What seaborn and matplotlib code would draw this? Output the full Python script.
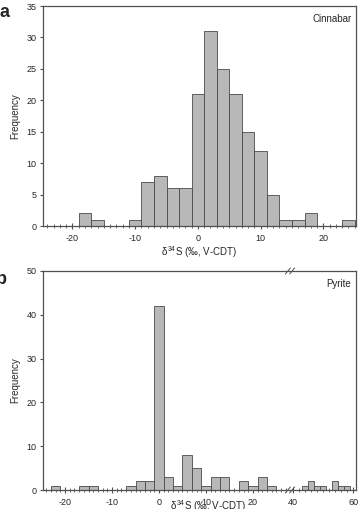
import matplotlib
matplotlib.use("Agg")
import matplotlib.pyplot as plt
from matplotlib.ticker import MultipleLocator, FixedLocator
import pandas as pd
import seaborn as sns

# Cinnabar histogram (2 permil bins, centred on even values)
cinnabar_centers = [-18, -16, -10, -8, -6, -4, -2, 0, 2, 4, 6, 8, 10, 12, 14, 16, 18, 24]
cinnabar_counts = [2, 1, 1, 7, 8, 6, 6, 21, 31, 25, 21, 15, 12, 5, 1, 1, 2, 1]

# Pyrite histogram, left part of broken axis
pyrite_centers = [-22, -16, -14, -6, -4, -2, 0, 2, 4, 6, 8, 10, 12, 14, 18, 20, 22, 24]
pyrite_counts = [1, 1, 1, 1, 2, 2, 42, 3, 1, 8, 5, 1, 3, 3, 2, 1, 3, 1]

# Pyrite histogram, right part of broken axis
pyrite_hi_centers = [44, 46, 48, 50, 54, 56, 58]
pyrite_hi_counts = [1, 2, 1, 1, 2, 1, 1]

XLABEL = r"$\delta^{34}$S (‰, V-CDT)"

sns.set_style("ticks")
plt.rcParams["font.family"] = ["Liberation Sans", "DejaVu Sans"]
plt.rcParams["mathtext.fontset"] = "custom"
plt.rcParams["mathtext.rm"] = "Liberation Sans"
plt.rcParams["mathtext.it"] = "Liberation Sans"
plt.rcParams["axes.unicode_minus"] = False

BAR = "#b8b8b8"
EDGE = "#4a4a4a"
AX = "#505050"
FS = 6.5

W, H = 359, 509
fig = plt.figure(figsize=(W / 100, H / 100), dpi=100)


def frac(x0, y0, x1, y1):
    return [x0 / W, 1 - y1 / H, (x1 - x0) / W, (y1 - y0) / H]


def draw_hist(ax, centers, counts, lo, hi):
    df = pd.DataFrame({"d34s": centers, "n": counts})
    edges = list(range(lo, hi + 1, 2))
    sns.histplot(data=df, x="d34s", weights="n", bins=edges, ax=ax,
                 color=BAR, edgecolor=EDGE, linewidth=0.6, alpha=1)


def style(ax):
    for s in ax.spines.values():
        s.set_color(AX)
        s.set_linewidth(0.9)
    ax.tick_params(axis="x", which="major", direction="inout", length=5,
                   width=0.8, color=AX, labelsize=FS, pad=3)
    ax.tick_params(axis="x", which="minor", direction="inout", length=3,
                   width=0.6, color=AX)
    ax.tick_params(axis="y", direction="out", length=2.5, width=0.8,
                   color=AX, labelsize=FS, pad=2)
    ax.set_xlabel("")
    ax.set_ylabel("")


# ---- panel a
ax1 = fig.add_axes(frac(43, 6, 356, 226))
draw_hist(ax1, cinnabar_centers, cinnabar_counts, -25, 25)
ax1.set_xlim(-24.7, 25.2)
ax1.set_ylim(0, 35)
ax1.xaxis.set_major_locator(MultipleLocator(10))
ax1.xaxis.set_minor_locator(MultipleLocator(1))
ax1.yaxis.set_major_locator(MultipleLocator(5))
style(ax1)
ax1.set_ylabel("Frequency", fontsize=FS + 0.5, labelpad=5)
ax1.set_xlabel(XLABEL, fontsize=FS + 0.5, labelpad=1)
ax1.text(0.985, 0.965, "Cinnabar", transform=ax1.transAxes, ha="right",
         va="top", fontsize=FS + 0.5)
fig.text(0.0, 0.992, "a", fontsize=13, fontweight="bold", va="top")

# ---- panel b (broken x axis)
ax2 = fig.add_axes(frac(43, 271, 290, 490))
ax3 = fig.add_axes(frac(290, 271, 356, 490), sharey=ax2)
draw_hist(ax2, pyrite_centers, pyrite_counts, -25, 27)
draw_hist(ax3, pyrite_hi_centers, pyrite_hi_counts, 39, 61)
ax2.set_xlim(-24.7, 27.9)
ax3.set_xlim(38.9, 60.9)
ax2.set_ylim(0, 50)
ax2.xaxis.set_major_locator(MultipleLocator(10))
ax2.xaxis.set_minor_locator(MultipleLocator(1))
ax2.yaxis.set_major_locator(MultipleLocator(10))
ax3.xaxis.set_major_locator(FixedLocator([40, 60]))
ax3.xaxis.set_minor_locator(MultipleLocator(2))
style(ax2)
style(ax3)
ax2.spines["right"].set_visible(False)
ax3.spines["left"].set_visible(False)
ax3.tick_params(axis="y", left=False, labelleft=False)
ax2.set_ylabel("Frequency", fontsize=FS + 0.5, labelpad=5)
ax3.text(0.93, 0.965, "Pyrite", transform=ax3.transAxes, ha="right",
         va="top", fontsize=FS + 0.5)
fig.text(0.58, 0.006, XLABEL, fontsize=FS + 0.5, ha="center", va="center")
fig.text(-0.012, 0.468, "b", fontsize=13, fontweight="bold", va="top")

# break marks on the top and bottom spines
for ypx in (490, 271):
    yf = (H - ypx) / H
    for dx in (-0.006, 0.006):
        xf = 290 / W + dx
        fig.add_artist(plt.Line2D([xf - 0.007, xf + 0.007],
                                  [yf - 0.006, yf + 0.006],
                                  color=AX, lw=0.7))

fig.savefig("out.png", dpi=100)
